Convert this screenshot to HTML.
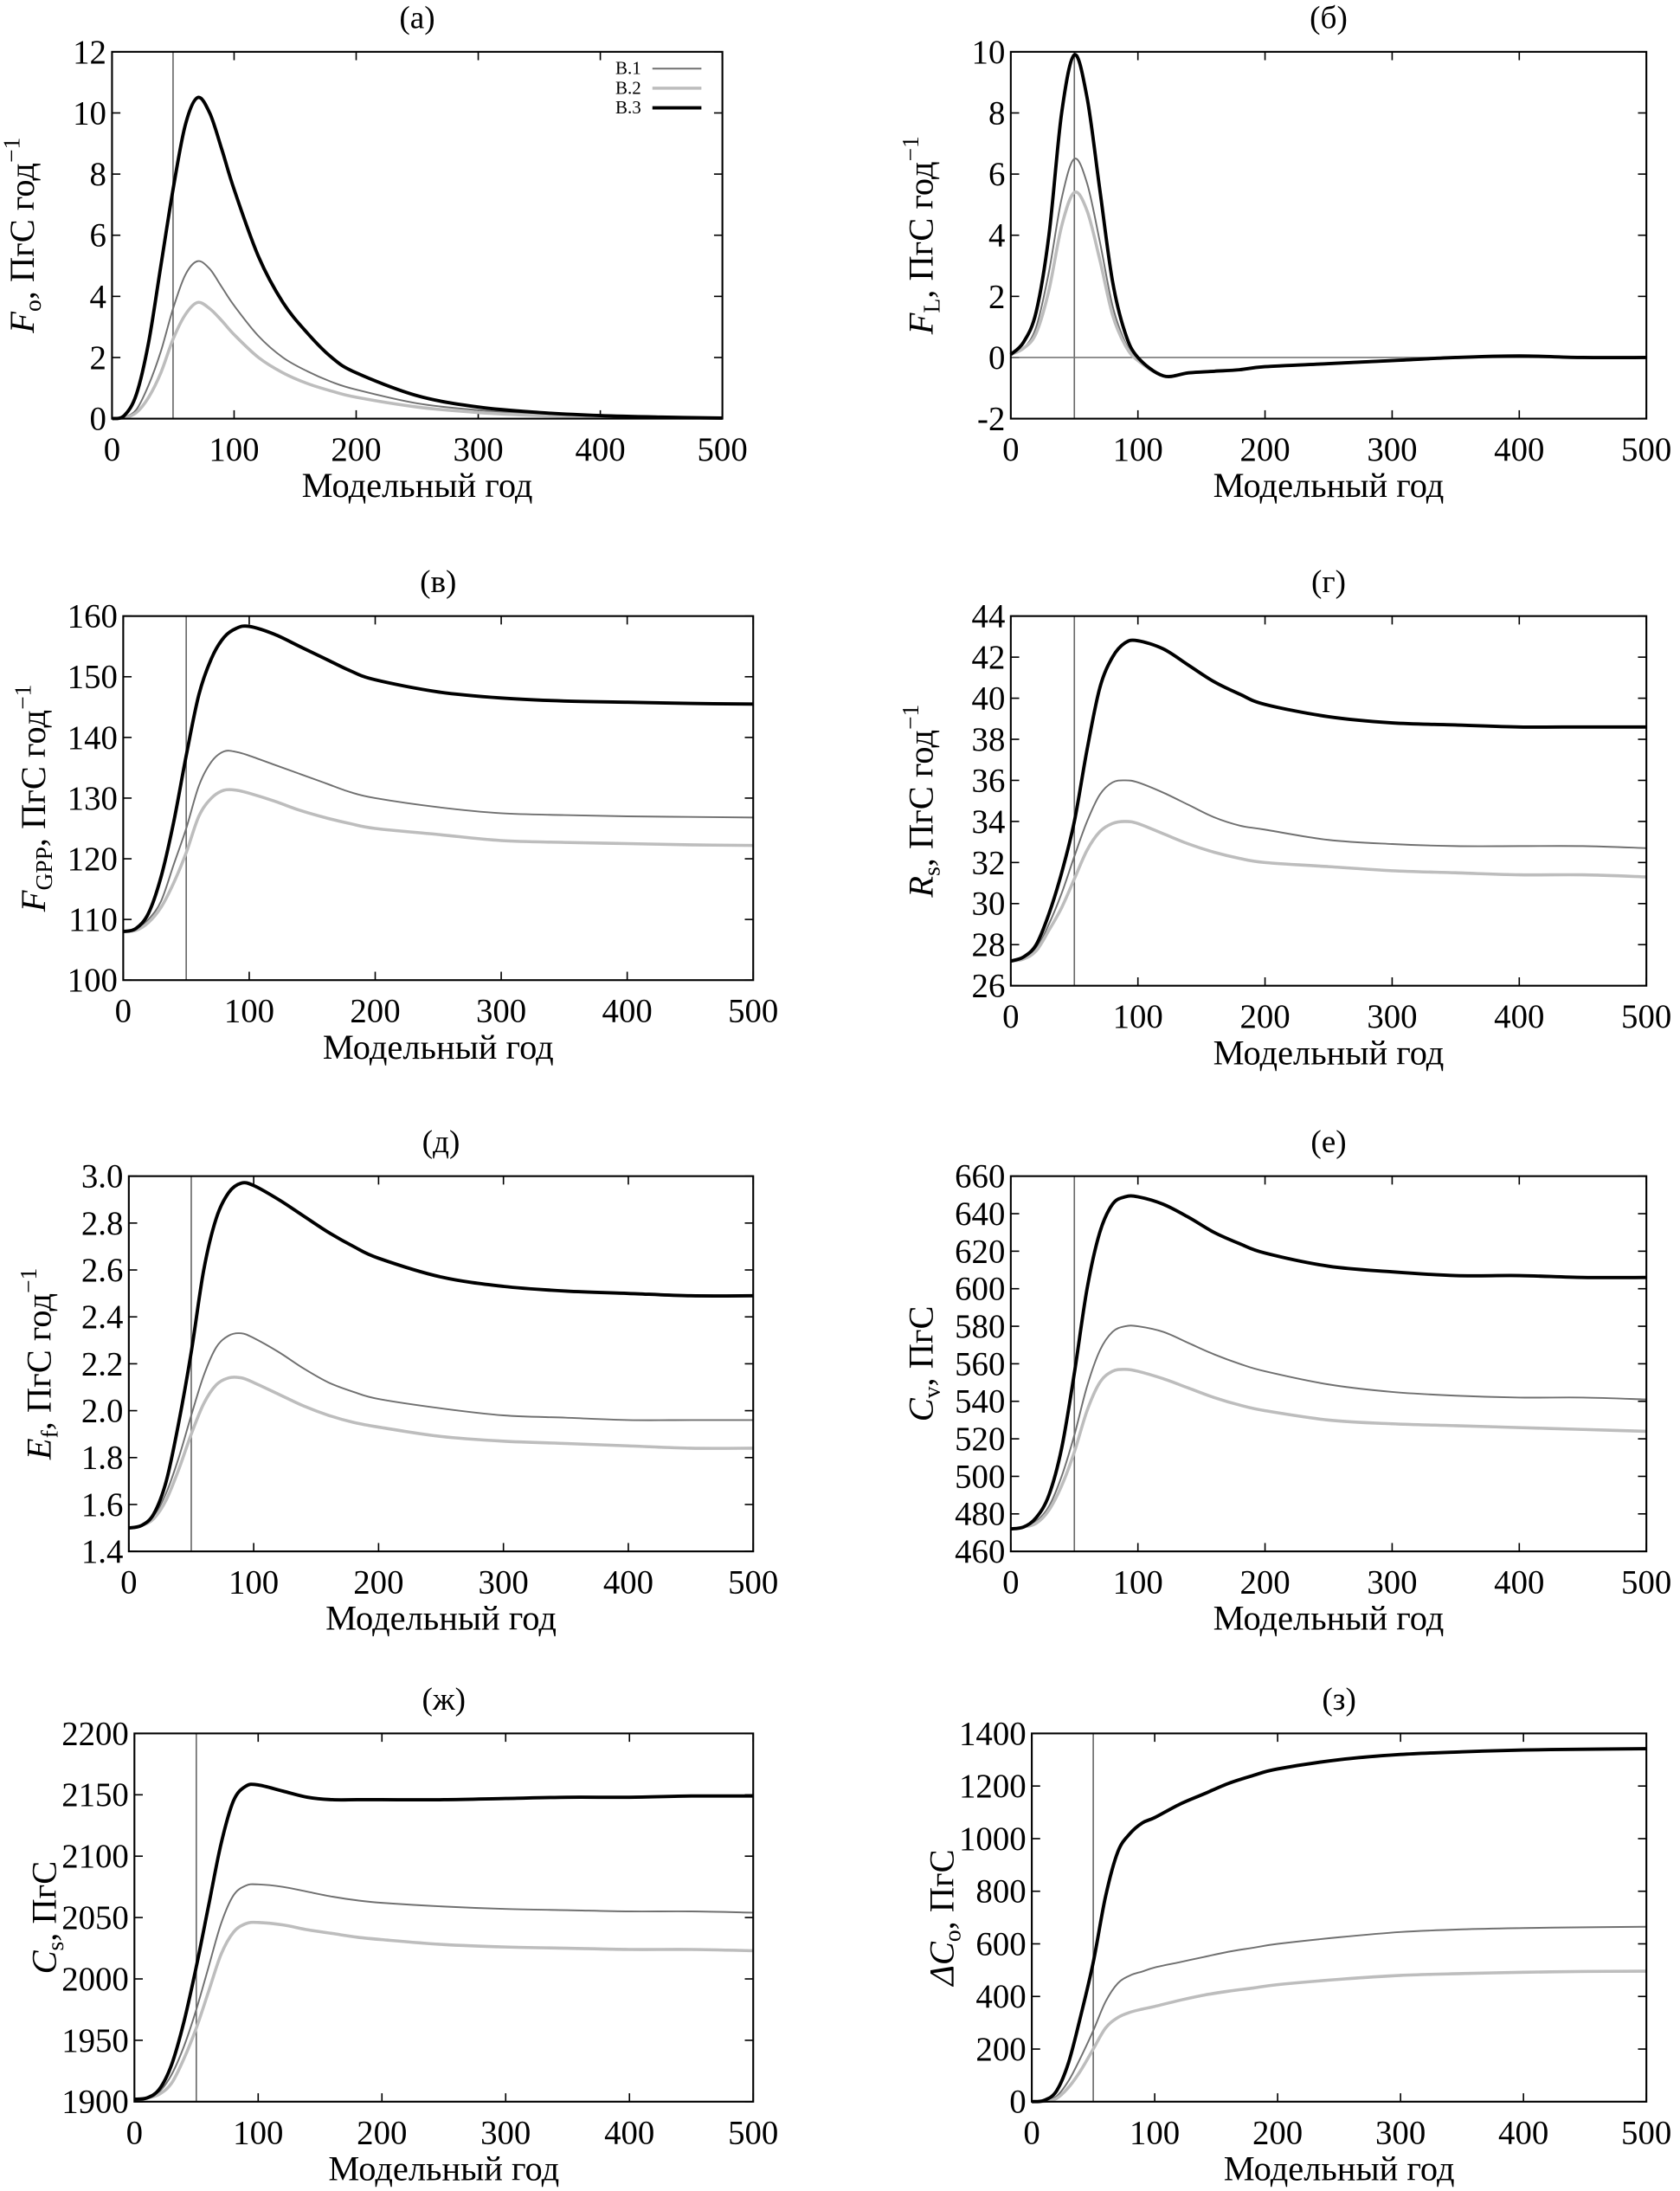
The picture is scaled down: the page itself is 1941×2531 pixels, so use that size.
<!DOCTYPE html>
<html><head><meta charset="utf-8"><style>
html,body{margin:0;padding:0;background:#fff}
svg{display:block;font-family:"Liberation Serif","DejaVu Serif",serif}
svg text{font-family:"Liberation Serif","DejaVu Serif",serif;fill:#000}
</style></head><body>
<svg id="fig" width="1941" height="2531" viewBox="0 0 1200 1564.8" font-family="Liberation Serif, DejaVu Serif, serif" xmlns="http://www.w3.org/2000/svg"></svg>
<script>
const years = [0,10,20,30,40,50,60,70,80,90,100,120,140,160,180,200,250,300,350,400,450,500];
const xTicks = [0,100,200,300,400,500];
const foB1 = [0,0.05,0.3,1.1,2.2,3.6,4.7,5.15,4.9,4.3,3.7,2.7,2.0,1.55,1.2,0.95,0.5,0.28,0.15,0.08,0.04,0.02];
const foB2 = [0,0.03,0.2,0.7,1.5,2.6,3.4,3.8,3.6,3.2,2.75,2.0,1.5,1.15,0.9,0.7,0.38,0.2,0.1,0.05,0.03,0.01];
const foB3 = [0,0.1,0.8,2.5,5,7.5,9.6,10.5,10.0,8.8,7.5,5.3,3.8,2.8,2.0,1.5,0.75,0.38,0.2,0.1,0.05,0.02];
const flB1 = [0.1,0.3,1,2.8,5.2,6.5,5.7,3.8,1.7,0.5,-0.1,-0.6,-0.5,-0.45,-0.4,-0.3,-0.2,-0.1,0,0.05,0,0];
const flB2 = [0.1,0.3,0.8,2.2,4.3,5.4,4.8,3.2,1.4,0.4,-0.1,-0.6,-0.5,-0.45,-0.4,-0.3,-0.2,-0.1,0,0.05,0,0];
const flB3 = [0.1,0.5,1.5,4,8,9.9,8.5,5.5,2.5,0.8,0,-0.6,-0.5,-0.45,-0.4,-0.3,-0.2,-0.1,0,0.05,0,0];
const gppB1 = [108,108.3,110,113,119,125,132,136,137.7,137.6,137,135.5,134,132.5,131,130,128.5,127.5,127.2,127,126.9,126.8];
const gppB2 = [108,108.2,109.5,112,116,121,127,130,131.3,131.3,130.8,129.5,128,126.8,125.8,125,124,123,122.7,122.5,122.3,122.2];
const gppB3 = [108,108.5,111,117,126,137,147,153,156.5,158,158.3,157,155,153,151,149.5,147.5,146.5,146,145.8,145.6,145.5];
const rsB1 = [27.2,27.3,27.8,29,30.5,32.3,34,35.3,35.9,36.0,35.9,35.4,34.8,34.2,33.8,33.6,33.1,32.9,32.8,32.8,32.8,32.7];
const rsB2 = [27.2,27.3,27.7,28.7,29.8,31.2,32.6,33.5,33.9,34.0,33.9,33.4,32.9,32.5,32.2,32.0,31.8,31.6,31.5,31.4,31.4,31.3];
const rsB3 = [27.2,27.4,28,29.5,31.5,34,37.5,40.5,42,42.7,42.8,42.4,41.6,40.8,40.2,39.7,39.1,38.8,38.7,38.6,38.6,38.6];
const efB1 = [1.5,1.51,1.55,1.65,1.8,1.98,2.15,2.27,2.32,2.33,2.31,2.25,2.18,2.12,2.08,2.05,2.01,1.98,1.97,1.96,1.96,1.96];
const efB2 = [1.5,1.51,1.54,1.62,1.75,1.9,2.03,2.11,2.14,2.14,2.12,2.07,2.02,1.98,1.95,1.93,1.89,1.87,1.86,1.85,1.84,1.84];
const efB3 = [1.5,1.51,1.56,1.7,1.95,2.25,2.6,2.82,2.93,2.97,2.96,2.9,2.83,2.76,2.7,2.65,2.57,2.53,2.51,2.50,2.49,2.49];
const cvB1 = [472,473,476,484,500,522,548,567,577,580,580,577,571,565,560,556,549,545,543,542,542,541];
const cvB2 = [472,473,475,482,495,513,535,550,556,557,556,552,547,542,538,535,530,528,527,526,525,524];
const cvB3 = [472,473,478,490,515,555,600,630,645,649,649,645,638,630,624,619,612,609,607,607,606,606];
const csB1 = [1902,1903,1908,1922,1945,1975,2010,2045,2068,2076,2077,2075,2071,2067,2064,2062,2059,2057,2056,2055,2055,2054];
const csB2 = [1902,1903,1906,1915,1935,1960,1990,2020,2038,2045,2046,2044,2040,2037,2034,2032,2028,2026,2025,2024,2024,2023];
const csB3 = [1902,1903,1910,1930,1965,2010,2060,2110,2145,2157,2158,2153,2148,2146,2146,2146,2146,2147,2148,2148,2149,2149];
const coB1 = [0,2,20,80,170,270,380,450,480,495,510,530,550,570,585,600,625,645,655,660,663,665];
const coB2 = [0,1,12,55,120,200,280,320,340,352,362,385,405,420,432,445,465,480,487,492,495,496];
const coB3 = [0,5,40,150,330,530,780,950,1020,1060,1080,1130,1170,1210,1240,1265,1300,1320,1330,1337,1340,1342];
const ticksA = [0,2,4,6,8,10,12];
const ticksB = [-2,0,2,4,6,8,10];
const ticksV = [100,110,120,130,140,150,160];
const ticksG = [26,28,30,32,34,36,38,40,42,44];
const ticksD = [1.4,1.6,1.8,2.0,2.2,2.4,2.6,2.8,3.0];
const ticksE = [460,480,500,520,540,560,580,600,620,640,660];
const ticksZh = [1900,1950,2000,2050,2100,2150,2200];
const ticksZ = [0,200,400,600,800,1000,1200,1400];

const NS = "http://www.w3.org/2000/svg";
const FF = "Liberation Serif, DejaVu Serif, serif";
const svg = document.getElementById('fig');
function mk(tag, attrs, parent){const e=document.createElementNS(NS,tag);for(const k in attrs)e.setAttribute(k,attrs[k]);(parent||svg).appendChild(e);return e;}
function smooth(pts){
  let d='M'+pts[0][0].toFixed(2)+' '+pts[0][1].toFixed(2);
  for(let i=0;i<pts.length-1;i++){
    const p0=pts[Math.max(0,i-1)],p1=pts[i],p2=pts[i+1],p3=pts[Math.min(pts.length-1,i+2)];
    const c1x=p1[0]+(p2[0]-p0[0])/6,c1y=p1[1]+(p2[1]-p0[1])/6;
    const c2x=p2[0]-(p3[0]-p1[0])/6,c2y=p2[1]-(p3[1]-p1[1])/6;
    d+=` C${c1x.toFixed(2)} ${c1y.toFixed(2)} ${c2x.toFixed(2)} ${c2y.toFixed(2)} ${p2[0].toFixed(2)} ${p2[1].toFixed(2)}`;
  }
  return d;
}

const panels = [
 {id:'a',title:'(а)',x0:80,x1:516,y0:37,y1:299,ticks:ticksA,dec:0,series:[foB1,foB2,foB3],ylab:['F','o',', ПгС год','−1'],legend:true},
 {id:'b',title:'(б)',x0:722,x1:1176,y0:37,y1:299,ticks:ticksB,dec:0,series:[flB1,flB2,flB3],ylab:['F','L',', ПгС год','−1'],zero:true},
 {id:'v',title:'(в)',x0:88,x1:538,y0:440,y1:700,ticks:ticksV,dec:0,series:[gppB1,gppB2,gppB3],ylab:['F','GPP',', ПгС год','−1']},
 {id:'g',title:'(г)',x0:722,x1:1176,y0:440,y1:704,ticks:ticksG,dec:0,series:[rsB1,rsB2,rsB3],ylab:['R','s',', ПгС год','−1']},
 {id:'d',title:'(д)',x0:92,x1:538,y0:840,y1:1108,ticks:ticksD,dec:1,series:[efB1,efB2,efB3],ylab:['E','f',', ПгС год','−1']},
 {id:'e',title:'(е)',x0:722,x1:1176,y0:840,y1:1108,ticks:ticksE,dec:0,series:[cvB1,cvB2,cvB3],ylab:['C','v',', ПгС','']},
 {id:'zh',title:'(ж)',x0:96,x1:538,y0:1238,y1:1501,ticks:ticksZh,dec:0,series:[csB1,csB2,csB3],ylab:['C','s',', ПгС','']},
 {id:'z',title:'(з)',x0:737,x1:1176,y0:1238,y1:1501,ticks:ticksZ,dec:0,series:[coB1,coB2,coB3],ylab:['ΔC','o',', ПгС','']}
];
const styles=[{c:'#707070',w:1.2,n:'series-b1'},{c:'#bdbdbd',w:2.2,n:'series-b2'},{c:'#000',w:2.4,n:'series-b3'}];

panels.forEach(p=>{
  const g=mk('g',{'font-family':FF});
  
  
  const ymin=p.ticks[0], ymax=p.ticks[p.ticks.length-1];
  const sx=v=>p.x0+(v-0)/(500)*(p.x1-p.x0);
  const sy=v=>p.y1-(v-ymin)/(ymax-ymin)*(p.y1-p.y0);
  const t=mk('text',{x:(p.x0+p.x1)/2,y:p.y0-17,'text-anchor':'middle','font-size':23,'font-family':FF},g);t.textContent=p.title;
  
  
  p.ticks.forEach(v=>{
    const y=sy(v);
    mk('line',{x1:p.x0,x2:p.x0+6,y1:y,y2:y,stroke:'#000','stroke-width':1},g);
    mk('line',{x1:p.x1,x2:p.x1-6,y1:y,y2:y,stroke:'#000','stroke-width':1},g);
    const l=mk('text',{x:p.x0-4,y:y+8,'text-anchor':'end','font-size':24,'font-family':FF},g);
    l.textContent=v.toFixed(p.dec);
    
    
  });
  xTicks.forEach(v=>{
    const x=sx(v);
    mk('line',{x1:x,x2:x,y1:p.y1,y2:p.y1-6,stroke:'#000','stroke-width':1},g);
    mk('line',{x1:x,x2:x,y1:p.y0,y2:p.y0+6,stroke:'#000','stroke-width':1},g);
    const l=mk('text',{x:x,y:p.y1+30,'text-anchor':'middle','font-size':24,'font-family':FF},g);
    l.textContent=v;
    
    
  });
  const xl=mk('text',{x:(p.x0+p.x1)/2,y:p.y1+56,'text-anchor':'middle','font-size':25,'font-family':FF},g);
  xl.textContent='Модельный год';
  
  
  const cy=(p.y0+p.y1)/2, cx=p.x0-56;
  const yl=mk('text',{transform:`translate(${cx},${cy}) rotate(-90)`,'text-anchor':'middle','font-size':25,'font-family':FF},g);
  
  
  const a=mk('tspan',{'font-style':'italic'},yl);a.textContent=p.ylab[0];
  const b=mk('tspan',{'font-size':17,dy:5},yl);b.textContent=p.ylab[1];
  const c=mk('tspan',{dy:-5},yl);c.textContent=p.ylab[2];
  if(p.ylab[3]){const d=mk('tspan',{'font-size':17,dy:-10},yl);d.textContent=p.ylab[3];}
  const vl=mk('line',{x1:sx(50),x2:sx(50),y1:p.y0,y2:p.y1,stroke:'#666','stroke-width':1},g);
  
  
  if(p.zero){const zl=mk('line',{x1:p.x0,x2:p.x1,y1:sy(0),y2:sy(0),stroke:'#777','stroke-width':1},g);
    
    }
  p.series.forEach((arr,i)=>{
    const pts=arr.map((v,k)=>[sx(years[k]),sy(v)]);
    const path=mk('path',{d:smooth(pts),fill:'none',stroke:styles[i].c,'stroke-width':styles[i].w,'stroke-linejoin':'round'},g);
    
    
  });
  const fr=mk('rect',{x:p.x0,y:p.y0,width:p.x1-p.x0,height:p.y1-p.y0,fill:'none',stroke:'#000','stroke-width':1.3},g);
  
  
  if(p.legend){
    ['В.1','В.2','В.3'].forEach((nm,i)=>{
      const y=49+i*14;
      const lt=mk('text',{x:458,y:y+4,'text-anchor':'end','font-size':13,'font-family':FF},g);
      lt.textContent=nm;
      
      
      mk('line',{x1:466,x2:501,y1:y,y2:y,stroke:styles[i].c,'stroke-width':styles[i].w},g);
    });
  }
});
</script>
</body></html>
